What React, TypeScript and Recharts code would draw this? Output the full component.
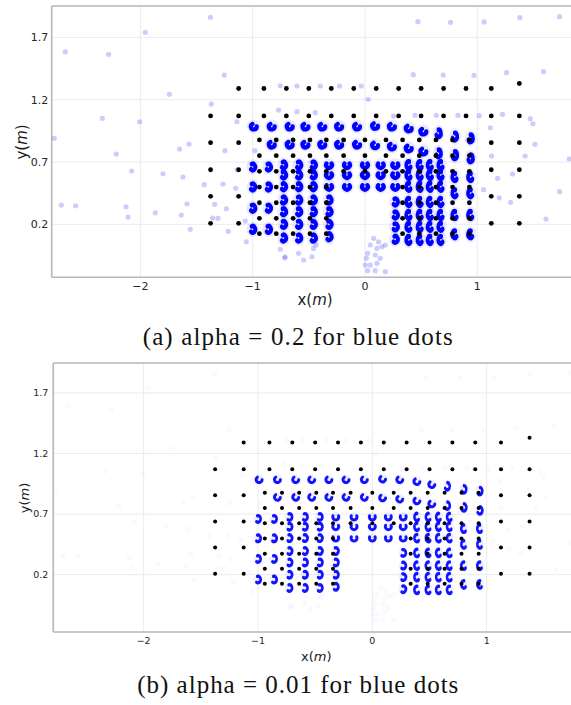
import React from 'react';
import { ScatterChart, Scatter, XAxis, YAxis, CartesianGrid, ReferenceLine } from 'recharts';

// black dots: reference grid (x, y in metres)
const outerAnchors = [
  [-1.125, 1.29], [-0.9, 1.29], [-0.7, 1.29], [-0.5, 1.29], [-0.3, 1.29], [-0.1, 1.29],
  [0.1, 1.29], [0.3, 1.29], [0.5, 1.29], [0.7, 1.29], [0.9, 1.29], [1.125, 1.29], [1.375, 1.33],
  [-1.375, 1.07], [-1.125, 1.07], [-0.9, 1.07], [-0.7, 1.07], [-0.5, 1.07], [-0.3, 1.07], [-0.1, 1.07],
  [0.1, 1.07], [0.3, 1.07], [0.5, 1.07], [0.7, 1.07], [0.9, 1.07], [1.125, 1.07], [1.375, 1.07],
  [-1.375, 0.855], [-1.125, 0.855], [1.125, 0.855], [1.375, 0.855],
  [-1.375, 0.638], [-1.125, 0.638], [1.125, 0.638], [1.375, 0.638],
  [-1.375, 0.425], [-1.125, 0.425], [1.125, 0.425], [1.375, 0.425],
  [-1.375, 0.208], [-1.125, 0.208], [1.125, 0.208], [1.375, 0.208],
];

const innerAnchors = [
  [-0.94, 0.877], [-0.79, 0.877], [-0.64, 0.877], [-0.49, 0.877], [-0.344, 0.877], [-0.19, 0.877], [0.0, 0.877],
  [0.187, 0.877], [0.335, 0.877], [0.484, 0.877], [0.632, 0.877], [0.78, 0.877], [0.93, 0.877],
  [-0.94, 0.751], [-0.79, 0.751], [-0.64, 0.751], [-0.49, 0.751], [-0.344, 0.751], [-0.19, 0.751], [0.0, 0.751],
  [0.187, 0.751], [0.335, 0.751], [0.484, 0.751], [0.632, 0.751], [0.78, 0.751], [0.93, 0.751],
  [-0.94, 0.625], [-0.79, 0.625], [-0.64, 0.625], [-0.49, 0.625], [-0.344, 0.625], [-0.19, 0.625], [0.0, 0.625],
  [0.187, 0.625], [0.335, 0.625], [0.484, 0.625], [0.632, 0.625], [0.78, 0.625], [0.93, 0.625],
  [-0.94, 0.499], [-0.79, 0.499], [-0.64, 0.499], [-0.49, 0.499], [-0.344, 0.499],
  [0.335, 0.499], [0.484, 0.499], [0.632, 0.499], [0.78, 0.499], [0.93, 0.499],
  [-0.94, 0.373], [-0.79, 0.373], [-0.64, 0.373], [-0.49, 0.373], [-0.344, 0.373],
  [0.335, 0.373], [0.484, 0.373], [0.632, 0.373], [0.78, 0.373], [0.93, 0.373],
  [-0.94, 0.248], [-0.79, 0.248], [-0.64, 0.248], [-0.49, 0.248], [-0.344, 0.248],
  [0.335, 0.248], [0.484, 0.248], [0.632, 0.248], [0.78, 0.248], [0.93, 0.248],
  [-0.94, 0.125], [-0.79, 0.125], [-0.64, 0.125], [-0.49, 0.125], [-0.344, 0.125],
  [0.335, 0.125], [0.484, 0.125], [0.632, 0.125], [0.78, 0.125], [0.93, 0.125],
];

// blue dots: dense estimate clusters
const blueClusters = [
  [-0.99, 0.985], [-0.83, 0.985], [-0.67, 0.985], [-0.53, 0.985], [-0.38, 0.985], [-0.23, 0.985], [-0.07, 0.985],
  [0.09, 0.99], [0.24, 0.985], [0.39, 0.97], [0.52, 0.945], [0.655, 0.93], [0.8, 0.905], [0.94, 0.89],
  [-0.83, 0.84], [-0.67, 0.84], [-0.53, 0.84], [-0.38, 0.84], [-0.23, 0.84], [-0.07, 0.84],
  [0.09, 0.835], [0.24, 0.825], [0.39, 0.81], [0.52, 0.785], [0.655, 0.77], [0.8, 0.755], [0.94, 0.73],
  [-1.0, 0.66], [-0.86, 0.66], [-1.0, 0.5], [-0.86, 0.5], [-1.0, 0.33], [-0.86, 0.33], [-1.0, 0.16], [-0.86, 0.16],
  [-0.725, 0.676], [-0.725, 0.596], [-0.725, 0.502], [-0.725, 0.395], [-0.725, 0.301], [-0.725, 0.2], [-0.725, 0.09],
  [-0.59, 0.676], [-0.59, 0.596], [-0.59, 0.502], [-0.59, 0.395], [-0.59, 0.301], [-0.59, 0.2], [-0.59, 0.09],
  [-0.46, 0.676], [-0.46, 0.596], [-0.46, 0.502], [-0.46, 0.395], [-0.46, 0.301], [-0.46, 0.2], [-0.46, 0.09],
  [-0.32, 0.676], [-0.32, 0.596], [-0.32, 0.502], [-0.32, 0.395], [-0.32, 0.301], [-0.32, 0.2], [-0.32, 0.1],
  [-0.16, 0.676], [-0.16, 0.596], [-0.16, 0.502], [0.0, 0.676], [0.0, 0.596], [0.0, 0.502],
  [0.14, 0.676], [0.14, 0.596], [0.14, 0.502], [0.27, 0.676], [0.27, 0.596], [0.27, 0.502],
  [0.27, 0.38], [0.27, 0.275], [0.27, 0.18], [0.27, 0.08],
  [0.39, 0.676], [0.39, 0.596], [0.39, 0.502], [0.39, 0.38], [0.39, 0.275], [0.39, 0.18], [0.39, 0.075],
  [0.49, 0.676], [0.49, 0.596], [0.49, 0.502], [0.49, 0.38], [0.49, 0.275], [0.49, 0.18], [0.49, 0.075],
  [0.58, 0.676], [0.58, 0.596], [0.58, 0.502], [0.58, 0.38], [0.58, 0.275], [0.58, 0.18], [0.58, 0.075],
  [0.675, 0.676], [0.675, 0.596], [0.675, 0.502], [0.675, 0.38], [0.675, 0.275], [0.675, 0.18], [0.675, 0.075],
  [0.8, 0.58], [0.8, 0.45], [0.8, 0.275], [0.8, 0.12],
  [0.94, 0.58], [0.94, 0.45], [0.94, 0.275], [0.94, 0.12],
];

// blue dots: scattered outliers
const blueStrays = [
  [-1.376, 1.861], [-1.957, 1.741], [-2.669, 1.585], [-2.283, 1.564], [-1.253, 1.398], [-1.742, 1.243],
  [-1.369, 1.165], [-2.339, 1.051], [-2.007, 1.023], [-1.14, 1.023], [-2.767, 0.89], [-1.651, 0.804],
  [-1.567, 0.844], [-1.247, 0.791], [-2.215, 0.764], [-0.98, 0.791], [-2.078, 0.628], [-1.799, 0.606],
  [-1.621, 0.58], [-1.14, 0.636], [-1.431, 0.518], [-1.264, 0.523], [-1.152, 0.489], [-2.704, 0.355],
  [-2.577, 0.349], [-2.128, 0.341], [-1.867, 0.293], [-1.585, 0.365], [-1.339, 0.361], [-2.11, 0.259],
  [-1.636, 0.275], [-1.357, 0.251], [-1.309, 0.248], [-1.235, 0.325], [-1.556, 0.16], [-1.217, 0.144],
  [-1.066, 0.226], [-1.057, 0.06], [-0.754, 0.0], [-0.716, -0.068],
  [0.472, 1.826], [0.762, 1.821], [1.062, 1.824], [1.38, 1.858], [1.733, 1.866],
  [0.43, 1.401], [0.697, 1.398], [0.971, 1.396], [1.261, 1.417], [1.59, 1.425],
  [0.029, 1.203], [-0.606, 1.31], [-0.398, 1.31], [-0.226, 1.31], [-0.033, 1.31], [-0.754, 1.312],
  [-0.769, 1.117], [-0.443, 1.096], [-0.606, 1.104],
  [0.255, 1.069], [0.445, 1.075], [0.635, 1.075], [0.828, 1.075], [1.018, 1.072], [1.225, 1.083],
  [1.472, 1.048], [1.496, 1.007], [1.116, 0.975], [1.514, 0.842], [1.127, 0.748], [1.427, 0.748],
  [1.819, 0.726], [1.181, 0.569], [1.314, 0.604], [1.056, 0.478], [1.196, 0.413], [1.297, 0.377],
  [1.733, 0.462], [1.612, 0.243],
  [0.077, 0.088], [0.121, 0.06], [0.047, 0.034], [0.107, 0.007], [0.023, -0.033], [0.092, -0.046],
  [0.012, -0.073], [0.136, -0.073], [0.003, -0.127], [0.047, -0.127], [0.107, -0.113], [0.181, -0.18],
  [0.092, -0.172], [0.023, -0.172], [0.151, 0.02], [0.181, 0.034],
  [-0.591, -0.033], [-0.547, -0.087], [-0.472, -0.06], [-0.458, 0.007], [-0.434, 0.034], [-0.71, -0.06],
];

const xTicks = [-2, -1, 0, 1];
const yTicks = [0.2, 0.7, 1.2, 1.7];

const toPts = (arr: number[][]) => arr.map(([x, y]) => ({ x, y }));
const anchorData = toPts([...outerAnchors, ...innerAnchors]);
const clusterData = toPts(blueClusters);
const strayData = toPts(blueStrays);

const fmt = (v: number) => (v < 0 ? '\u2212' + Math.abs(v) : String(v));
const FRAME = '#b8b8b8';
const BLUE = '#0000ff';

// crescent orientation depends on where the estimate sits in the room
function crescent(cx: number, cy: number, x: number, y: number, bold: boolean) {
  let mouth = -60;
  let sx = 1;
  let sy = 1;
  if (y >= 0.72) {
    if (x > 0.6) { mouth = -150; sx = 0.85; sy = 1.2; }
  } else if (x < -0.4) {
    mouth = 190; sx = 0.9; sy = 1.1;
  } else if (x < 0.32 && y > 0.45) {
    mouth = -90;
  } else if (x < 0.32) {
    mouth = 190; sx = 0.9; sy = 1.1;
  } else {
    mouth = -20; sx = 0.85; sy = 1.2;
  }
  const r = bold ? 2.9 : 3;
  const gap = bold ? 115 : 130;
  const a0 = ((mouth + gap / 2) * Math.PI) / 180;
  const a1 = ((mouth + 360 - gap / 2) * Math.PI) / 180;
  const d = `M${r * Math.cos(a0)},${r * Math.sin(a0)} A${r},${r} 0 1 1 ${r * Math.cos(a1)},${r * Math.sin(a1)}`;
  return (
    <g transform={`translate(${cx},${cy}) scale(${sx},${sy})`}>
      {bold && <circle r={7} fill={BLUE} fillOpacity={0.08} />}
      {!bold && <circle r={5} fill={BLUE} fillOpacity={0.06} />}
      <path d={d} fill="none" stroke={BLUE} strokeWidth={bold ? 4.3 : 3} strokeLinecap="round" strokeOpacity={bold ? 1 : 0.92} />
    </g>
  );
}

interface PanelProps {
  top: number;
  plotLeft: number;
  plotRight: number;
  plotBottom: number;
  xDomain: number[];
  yDomain: number[];
  tickFont: number;
  yTickGap: number;
  strayOpacity: number;
  dotR: number;
  bold: boolean;
}

const Panel: React.FC<PanelProps> = (p) => {
  const width = 590;
  const xAxisH = 32;
  const height = p.plotBottom - p.top + xAxisH;
  return (
    <div style={{ position: 'absolute', left: 0, top: p.top - 6 }}>
      <ScatterChart
        width={width}
        height={height + 6}
        margin={{ top: 6, right: width - p.plotRight, bottom: 0, left: 0 }}
      >
        <CartesianGrid stroke="#ebebeb" strokeWidth={1} />
        <XAxis
          type="number"
          dataKey="x"
          domain={p.xDomain}
          ticks={xTicks}
          tickFormatter={fmt}
          allowDataOverflow
          height={xAxisH}
          tickLine={false}
          tickSize={0}
          tickMargin={5}
          axisLine={{ stroke: FRAME, strokeWidth: 1.6 }}
          tick={{ fontSize: p.tickFont, fill: '#262626', fontFamily: 'DejaVu Sans' }}
        />
        <YAxis
          type="number"
          dataKey="y"
          domain={p.yDomain}
          ticks={yTicks}
          allowDataOverflow
          width={p.plotLeft}
          tickLine={false}
          tickSize={0}
          tickMargin={p.yTickGap}
          axisLine={{ stroke: FRAME, strokeWidth: 1.6 }}
          tick={{ fontSize: p.tickFont, fill: '#262626', fontFamily: 'DejaVu Sans' }}
        />
        <ReferenceLine y={p.yDomain[1]} stroke={FRAME} strokeWidth={1.6} />
        <Scatter
          data={strayData}
          isAnimationActive={false}
          shape={(s: any) => <circle cx={s.cx} cy={s.cy} r={2.6} fill={BLUE} fillOpacity={p.strayOpacity} />}
        />
        <Scatter
          data={clusterData}
          isAnimationActive={false}
          shape={(s: any) => crescent(s.cx, s.cy, s.payload.x, s.payload.y, p.bold)}
        />
        <Scatter
          data={anchorData}
          isAnimationActive={false}
          shape={(s: any) => <circle cx={s.cx} cy={s.cy} r={p.dotR} fill="#000" />}
        />
      </ScatterChart>
    </div>
  );
};

const labelStyle: React.CSSProperties = {
  position: 'absolute',
  fontFamily: 'DejaVu Sans',
  color: '#1a1a1a',
  whiteSpace: 'nowrap',
  lineHeight: 1,
};

const AxisLabel: React.FC<{ name: string; x: number; y: number; size: number; rotate?: boolean }> = ({ name, x, y, size, rotate }) => (
  <div
    style={{
      ...labelStyle,
      left: x,
      top: y,
      fontSize: size,
      transform: `translate(-50%, -50%)${rotate ? ' rotate(-90deg)' : ''}`,
    }}
  >
    {name}(<i>m</i>)
  </div>
);

const Caption: React.FC<{ text: string; x: number; baseline: number; length: number }> = ({ text, x, baseline, length }) => (
  <svg style={{ position: 'absolute', left: 0, top: baseline - 30 }} width={571} height={40}>
    <text
      x={x}
      y={30}
      fontFamily="Liberation Serif"
      fontSize={25}
      fill="#111"
      textLength={length}
      lengthAdjust="spacing"
    >
      {text}
    </text>
  </svg>
);

export default function App() {
  return (
    <div style={{ position: 'absolute', left: 0, top: 0, width: 571, height: 705, overflow: 'hidden', background: '#fff' }}>
      <Panel
        top={6}
        plotLeft={51.7}
        plotRight={578.3}
        plotBottom={277.3}
        xDomain={[-2.79, 1.9]}
        yDomain={[-0.225, 1.952]}
        tickFont={11}
        yTickGap={3.5}
        strayOpacity={0.2}
        dotR={2.4}
        bold={true}
      />
      <AxisLabel name="x" x={315} y={300} size={15} />
      <AxisLabel name="y" x={22} y={141.5} size={15} rotate />
      <Caption text="(a) alpha = 0.2 for blue dots" x={142.7} baseline={344.7} length={310} />

      <Panel
        top={363.3}
        plotLeft={53.3}
        plotRight={579.3}
        plotBottom={632.3}
        xDomain={[-2.79, 1.81]}
        yDomain={[-0.273, 1.947]}
        tickFont={9.5}
        yTickGap={5}
        strayOpacity={0.025}
        dotR={2}
        bold={false}
      />
      <AxisLabel name="x" x={316.3} y={656} size={13} />
      <AxisLabel name="y" x={24} y={497.8} size={13} rotate />
      <Caption text="(b) alpha = 0.01 for blue dots" x={137.3} baseline={693} length={321} />
    </div>
  );
}
